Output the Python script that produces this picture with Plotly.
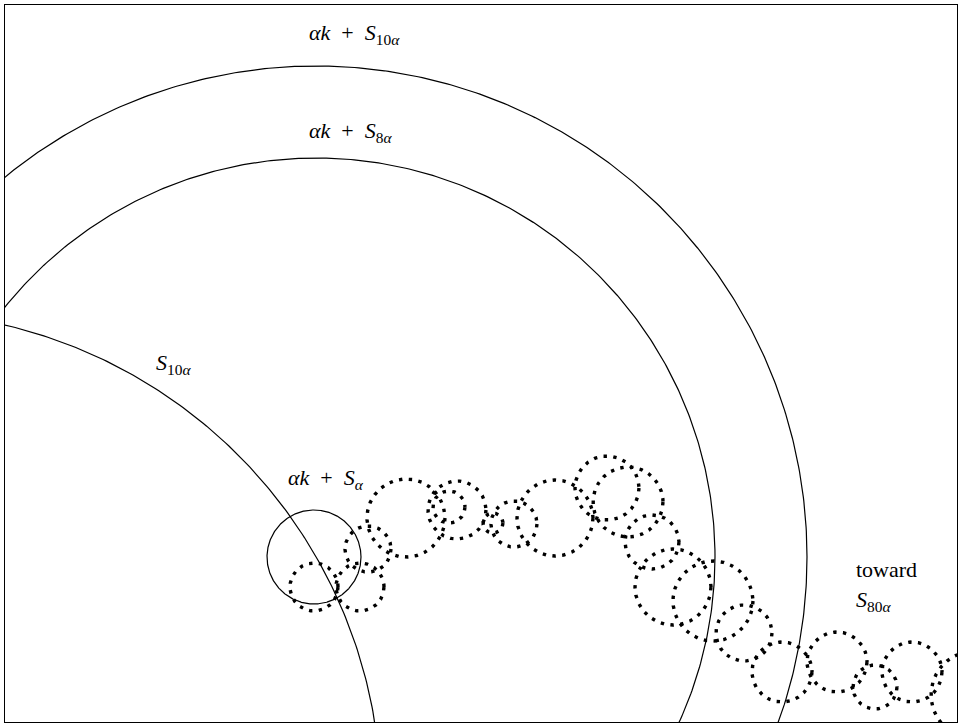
import numpy as np
import plotly.graph_objects as go

# ---- geometry (data coordinates = picture coordinates, y pointing down) ----
# solid circles: centre x, centre y, radius
solid_names = ["S_10a", "ak+S_a", "ak+S_8a", "ak+S_10a"]
solid_cx = [-107, 314, 316, 316]
solid_cy = [800, 557, 557, 557]
solid_r = [488, 47, 399, 491]

# dotted chain of circles heading toward S_80a
dot_cx = [314, 360, 368, 406, 457, 449, 493, 514, 555, 607, 628, 652, 673, 713, 744, 782, 837, 875, 912, 975]
dot_cy = [587, 587, 549, 518, 510, 507, 523, 524, 518, 488, 502, 542, 587, 601, 633, 672, 662, 687, 672, 695]
dot_r = [24, 24, 23, 39, 29, 16, 10, 23, 38, 32, 35, 27, 38, 40, 28, 30, 30, 22, 30, 44]

# labels
SP = "\u2002"
label_text = [f"<i>αk</i>{SP}+{SP}<i>S</i><sub>10<i>α</i></sub>",
              f"<i>αk</i>{SP}+{SP}<i>S</i><sub>8<i>α</i></sub>",
              "<i>S</i><sub>10<i>α</i></sub>",
              f"<i>αk</i>{SP}+{SP}<i>S</i><sub><i>α</i></sub>",
              "toward",
              "<i>S</i><sub>80<i>α</i></sub>"]
label_x = [307, 307, 154, 286, 854, 854]
label_y = [34, 132, 364, 479, 569, 601]

X0, X1, Y0, Y1 = 5, 957, 5, 722

theta = np.linspace(0, 2 * np.pi, 721)

fig = go.Figure()
for name, cx, cy, r in zip(solid_names, solid_cx, solid_cy, solid_r):
    fig.add_trace(go.Scatter(x=cx + r * np.cos(theta), y=cy + r * np.sin(theta),
                             mode="lines", name=name, hoverinfo="skip",
                             line=dict(color="black", width=1.2)))
for i, (cx, cy, r) in enumerate(zip(dot_cx, dot_cy, dot_r)):
    fig.add_trace(go.Scatter(x=cx + r * np.cos(theta), y=cy + r * np.sin(theta),
                             mode="lines", name=f"dot{i}", hoverinfo="skip",
                             line=dict(color="black", width=3.4, dash="3.4px,6.4px")))

for t, x, y in zip(label_text, label_x, label_y):
    fig.add_annotation(x=x, y=y, text=t, showarrow=False, xanchor="left", yanchor="middle",
                       font=dict(family="Liberation Serif", size=22, color="black"))

fig.update_layout(
    width=961, height=726,
    margin=dict(l=X0, r=961 - X1, t=Y0, b=726 - Y1),
    paper_bgcolor="white", plot_bgcolor="white",
    showlegend=False,
    xaxis=dict(range=[X0, X1], showgrid=False, zeroline=False, showticklabels=False, ticks="",
               showline=True, mirror=True, linecolor="black", linewidth=1),
    yaxis=dict(range=[Y1, Y0], showgrid=False, zeroline=False, showticklabels=False, ticks="",
               showline=True, mirror=True, linecolor="black", linewidth=1),
)
fig.write_html("out.html", config={"displayModeBar": False},
               post_script="document.body.style.margin='0';document.body.style.padding='0';")
